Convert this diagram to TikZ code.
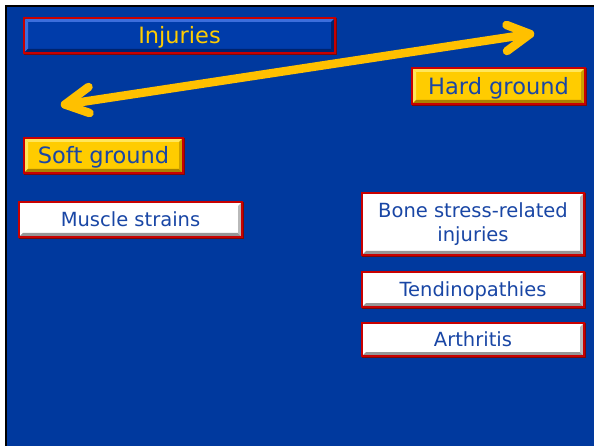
\documentclass[tikz,border=0pt]{standalone}
\usepackage{fontspec}
\setmainfont{DejaVu Sans}
\definecolor{bgblue}{RGB}{0,57,158}
\definecolor{boxred}{RGB}{200,0,0}
\definecolor{boxshadow}{RGB}{120,10,10}
\definecolor{gold}{RGB}{255,204,0}
\definecolor{golddark}{RGB}{170,130,0}
\definecolor{goldmid}{RGB}{205,160,0}
\definecolor{goldlight}{RGB}{255,230,90}
\definecolor{arrowgold}{RGB}{255,192,0}
\definecolor{txtblue}{RGB}{25,70,165}
\definecolor{hdrblue}{RGB}{0,60,170}
\definecolor{hdrlight}{RGB}{60,110,220}
\definecolor{hdrdark}{RGB}{0,35,110}
\definecolor{grayd}{RGB}{150,150,150}
\definecolor{graym}{RGB}{185,185,185}
\begin{document}
\begin{tikzpicture}[x=1pt,y=-1pt,
  bevel/.style n args={3}{path picture={
    \fill[#1] ([shift={(1pt,-1pt)}]path picture bounding box.north west) -- ([shift={(-1pt,-1pt)}]path picture bounding box.north east)
      -- ([shift={(-4pt,-4pt)}]path picture bounding box.north east) -- ([shift={(4pt,-4pt)}]path picture bounding box.north west) -- cycle;
    \fill[#1] ([shift={(1pt,-1pt)}]path picture bounding box.north west) -- ([shift={(1pt,1pt)}]path picture bounding box.south west)
      -- ([shift={(4pt,4pt)}]path picture bounding box.south west) -- ([shift={(4pt,-4pt)}]path picture bounding box.north west) -- cycle;
    \fill[#3] ([shift={(1pt,1pt)}]path picture bounding box.south west) -- ([shift={(-1pt,1pt)}]path picture bounding box.south east)
      -- ([shift={(-4pt,4pt)}]path picture bounding box.south east) -- ([shift={(4pt,4pt)}]path picture bounding box.south west) -- cycle;
    \fill[#2] ([shift={(-1pt,-1pt)}]path picture bounding box.north east) -- ([shift={(-1pt,1pt)}]path picture bounding box.south east)
      -- ([shift={(-4pt,4pt)}]path picture bounding box.south east) -- ([shift={(-4pt,-4pt)}]path picture bounding box.north east) -- cycle;
  }},
  basebox/.style={draw=boxred, line width=1.4pt, inner sep=0pt, align=center,
    preaction={draw=boxshadow, line width=1.4pt, transform canvas={xshift=1pt,yshift=-1pt}}},
  oneline/.style={text height=#1, text depth=0pt},
  hdrbox/.style={basebox, oneline=16.4pt, fill=hdrblue, text=gold, font=\fontsize{22.5}{26}\selectfont, bevel={hdrlight}{hdrdark}{hdrdark}},
  goldbox/.style={basebox, oneline=16.4pt, fill=gold, text=txtblue, font=\fontsize{22.5}{26}\selectfont, bevel={goldlight}{goldmid}{golddark}},
  whitebox/.style={basebox, fill=white, text=txtblue, font=\fontsize{19.5}{24}\selectfont, bevel={white}{graym}{grayd}},
  bigarrow/.style={draw=arrowgold, line width=8.5pt, line cap=round, line join=round}
]
\useasboundingbox (0,0) rectangle (594,446);
\fill[white] (0,0) rectangle (594,446);
\fill[black] (5,5) rectangle (594,446);
\fill[bgblue] (7,7) rectangle (594,446);

\node[hdrbox, minimum width=311pt, minimum height=35pt] (inj) at (179.5,35.5) {Injuries};
\node[goldbox, minimum width=173pt, minimum height=36pt] (hard) at (498.5,86) {Hard ground};
\node[goldbox, minimum width=159pt, minimum height=35pt] (soft) at (103.5,155.5) {Soft ground};
\node[whitebox, oneline=14.6pt, minimum width=223pt, minimum height=35pt] (mus) at (130.5,219.5) {Muscle strains};
\node[whitebox, minimum width=222pt, minimum height=62pt] (bone) at (473,224) {Bone stress-related\\injuries};
\node[whitebox, oneline=14.6pt, minimum width=222pt, minimum height=35pt] (tend) at (473,289.5) {Tendinopathies};
\node[whitebox, oneline=14.6pt, minimum width=222pt, minimum height=33pt] (arth) at (473,339.5) {Arthritis};

\coordinate (L) at (65,104.5);
\coordinate (R) at (530,34);
\coordinate (Lu) at (88.5,87);
\coordinate (Ld) at (89.5,113);
\coordinate (Ru) at (506.5,25);
\coordinate (Rd) at (507,51);
\draw[bigarrow] (L) -- (R);
\draw[bigarrow] (Lu) -- (L) -- (Ld);
\draw[bigarrow] (Ru) -- (R) -- (Rd);
\end{tikzpicture}
\end{document}
